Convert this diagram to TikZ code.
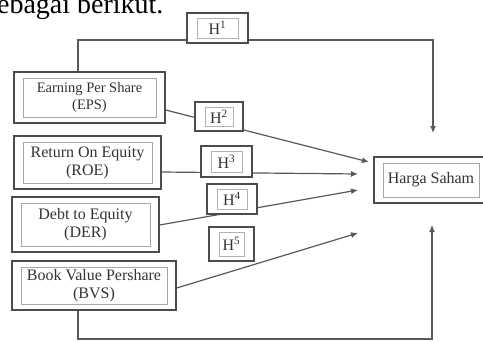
\documentclass[tikz,border=0pt]{standalone}
\usepackage{fontspec}
\setmainfont{Liberation Serif}
\usetikzlibrary{arrows.meta,calc}
\tikzset{
  box/.style={draw=black!70, line width=1.3pt, fill=white, inner sep=0pt, align=center,
    text=black!80, font=\fontsize{16}{18}\selectfont,
    path picture={\draw[black!35, line width=0.6pt]
      ([shift={(9pt,-6pt)}]path picture bounding box.north west) rectangle
      ([shift={(-9pt,6pt)}]path picture bounding box.south east);}},
  hbox/.style={box, path picture={\draw[black!30, line width=0.5pt]
      ([shift={(10pt,-5pt)}]path picture bounding box.north west) rectangle
      ([shift={(-10pt,5pt)}]path picture bounding box.south east);}},
  conn/.style={draw=black!65, line width=1.2pt},
  arr/.style={conn, -{Latex[length=7pt,width=6pt]}}
}
\begin{document}
\begin{tikzpicture}[x=1pt,y=-1pt]
\useasboundingbox (0,0) rectangle (483,341);
\clip (0,0) rectangle (483,341);
\node[anchor=base west, inner sep=0pt, font=\fontsize{28}{30}\selectfont] (intro) at (-14,13) {sebagai berikut.};
% coordinates of arrow ends
\coordinate (aTop) at (433,133);
\coordinate (aEps) at (369,162);
\coordinate (aRoe) at (358,174);
\coordinate (aDer) at (358,190);
\coordinate (aBvs) at (358,233);
\coordinate (aBot) at (432,225);
\coordinate (tl) at (78,40);
\coordinate (bl) at (78,339);
% nodes (placed first to get anchors; drawn on top afterwards)
\path
  node[box, minimum width=151pt, minimum height=51pt, font=\fontsize{14.5}{17}\selectfont] (eps) at (89.5,97.5) {Earning Per Share\\(EPS)}
  node[box, minimum width=147pt, minimum height=53pt] (roe) at (87.5,162.5) {Return On Equity\\(ROE)}
  node[box, minimum width=147pt, minimum height=55pt] (der) at (85.5,224.5) {Debt to Equity\\(DER)}
  node[box, minimum width=164pt, minimum height=49pt] (bvs) at (94,285.5) {Book Value Pershare\\(BVS)}
  node[box, minimum width=114pt, minimum height=46pt] (harga) at (431,180) {Harga Saham};
% connectors
\draw[arr] (eps.north -| tl) -- (tl) -| (aTop);
\draw[arr] (eps.east |- 0,110) -- (aEps);
\draw[arr] (roe.east |- 0,172) -- (aRoe);
\draw[arr] (der.east |- 0,225) -- (aDer);
\draw[arr] (bvs.east |- 0,288) -- (aBvs);
\draw[arr] (bvs.south -| bl) -- (bl) -| (aBot);
% hypothesis boxes on top of lines
\node[hbox, minimum width=61pt, minimum height=30pt] (h1) at (217.5,28) {H\textsuperscript{1}};
\node[hbox, minimum width=48pt, minimum height=29pt] (h2) at (219,116.5) {H\textsuperscript{2}};
\node[hbox, minimum width=51pt, minimum height=31pt] (h3) at (226.5,161.5) {H\textsuperscript{3}};
\node[hbox, minimum width=50pt, minimum height=30pt] (h4) at (232,199) {H\textsuperscript{4}};
\node[hbox, minimum width=45pt, minimum height=34pt] (h5) at (231.5,244) {H\textsuperscript{5}};
\end{tikzpicture}
\end{document}
